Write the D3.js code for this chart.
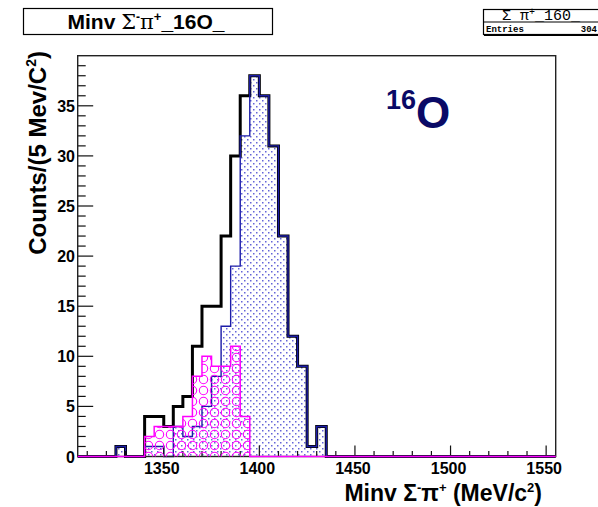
<!DOCTYPE html>
<html>
<head>
<meta charset="utf-8">
<script src="https://cdn.jsdelivr.net/npm/d3@7"></script>
<style>
  body { margin: 0; background: #fff; }
  svg { display: block; font-family: "Liberation Sans", Arial, sans-serif; }
</style>
</head>
<body>
<div id="viz"></div>
<script>
// bin lower edges (5 MeV bins)
var binLow = [1320,1325,1330,1335,1340,1345,1350,1355,1360,1365,1370,1375,
              1380,1385,1390,1395,1400,1405,1410,1415,1420,1425,1430,1435];
var totalCounts   = [0,1,0,0,4,4,3,5,6,11,15,15,22,30,36,38,36,31,22,12,9,1,3,0];
var sigmaCounts   = [0,1,0,0,1,1,0,3,2,3,5,8,13,19,32,38,36,31,22,12,9,1,3,0];
var magentaCounts = [0,0,0,0,2,3,3,3,4,8,10,9,9,11,4,0,0,0,0,0,0,0,0,0];
var xTicks = [1350,1400,1450,1500,1550];
var yTicks = [0,5,10,15,20,25,30,35];
var binWidth = 5;

var W = 598, H = 507;
var pLeft = 77.7, pRight = 555.7, pTop = 55.7, pBottom = 456.5;

var svg = d3.select('#viz').append('svg')
            .attr('width', W).attr('height', H);

var x = d3.scaleLinear().domain([1305,1555]).range([pLeft,pRight]);
var y = d3.scaleLinear().domain([0,40]).range([pBottom,pTop]);

// patterns
var defs = svg.append('defs');
var dots = defs.append('pattern').attr('id','dots')
               .attr('patternUnits','userSpaceOnUse')
               .attr('width',6).attr('height',6);
dots.append('rect').attr('x',1).attr('y',1).attr('width',1.5).attr('height',1.5).attr('fill','#6464d8');
dots.append('rect').attr('x',4).attr('y',4).attr('width',1.5).attr('height',1.5).attr('fill','#6464d8');

var rings = defs.append('pattern').attr('id','rings')
                .attr('patternUnits','userSpaceOnUse')
                .attr('width',11).attr('height',11);
rings.append('circle').attr('cx',5.5).attr('cy',5.5).attr('r',4.2)
     .attr('fill','none').attr('stroke','#ff00ff').attr('stroke-width',1.1);

// build the step outline of a histogram
var stepLine = d3.line()
                 .x(function(d) {return x(d[0])})
                 .y(function(d) {return y(d[1])})
                 .curve(d3.curveStepAfter);
var histPts = function(counts) {
	var pts = [[x.domain()[0],0],[binLow[0],0]];
	binLow.forEach(function(b,i) { pts.push([b, counts[i]]); });
	pts.push([binLow[binLow.length-1]+binWidth, 0]);
	pts.push([x.domain()[1], 0]);
	return pts;
}

// blue (dotted) histogram fill
svg.append('path')
   .datum(histPts(sigmaCounts))
   .attr('d', stepLine)
   .attr('fill','url(#dots)')
   .attr('stroke','none');

// total histogram outline
svg.append('path')
   .datum(histPts(totalCounts))
   .attr('d', stepLine)
   .attr('fill','none')
   .attr('stroke','#000')
   .attr('stroke-width',3);

// blue outline
svg.append('path')
   .datum(histPts(sigmaCounts))
   .attr('d', stepLine)
   .attr('fill','none')
   .attr('stroke','#1c1ca8')
   .attr('stroke-width',1.4);

// axes ticks (inward)
var xMinor = d3.range(1310,1556,10);
svg.append('g').selectAll('line').data(xMinor).enter().append('line')
   .attr('x1', function(d) {return x(d)}).attr('x2', function(d) {return x(d)})
   .attr('y1', pBottom)
   .attr('y2', function(d) {return pBottom - (d % 50 === 0 ? 11 : 5.5)})
   .attr('stroke','#111').attr('stroke-width',1.2);

var yMinor = d3.range(1,40,1);
svg.append('g').selectAll('line').data(yMinor).enter().append('line')
   .attr('x1', pLeft)
   .attr('x2', function(d) {return pLeft + (d % 5 === 0 ? 15.5 : 8)})
   .attr('y1', function(d) {return y(d)}).attr('y2', function(d) {return y(d)})
   .attr('stroke','#111').attr('stroke-width',1.2);

// frame
svg.append('rect')
   .attr('x',pLeft).attr('y',pTop)
   .attr('width',pRight-pLeft).attr('height',pBottom-pTop)
   .attr('fill','none').attr('stroke','#222').attr('stroke-width',1.4);

// magenta histogram on top
svg.append('path')
   .datum(histPts(magentaCounts))
   .attr('d', stepLine)
   .attr('fill','url(#rings)')
   .attr('stroke','#ff00ff')
   .attr('stroke-width',1.5);

// tick labels
svg.append('g').selectAll('text').data(xTicks).enter().append('text')
   .attr('x', function(d) {return x(d) - 2})
   .attr('y', 473.5)
   .attr('text-anchor','middle')
   .attr('font-size',16).attr('font-weight','bold')
   .text(function(d) {return d});

svg.append('g').selectAll('text').data(yTicks).enter().append('text')
   .attr('x', 75)
   .attr('y', function(d) {return y(d) + 6})
   .attr('text-anchor','end')
   .attr('font-size',16).attr('font-weight','bold')
   .text(function(d) {return d});

// x axis title
var xt = svg.append('text')
            .attr('x',542).attr('y',501)
            .attr('text-anchor','end')
            .attr('font-size',23).attr('font-weight','bold');
xt.append('tspan').text('Minv \u03a3');
xt.append('tspan').attr('font-size',13).attr('dy',-9).text('-');
xt.append('tspan').attr('dy',9).text('\u03c0');
xt.append('tspan').attr('font-size',13).attr('dy',-9).text('+');
xt.append('tspan').attr('dy',9).text(' (MeV/c');
xt.append('tspan').attr('font-size',13).attr('dy',-9).text('2');
xt.append('tspan').attr('dy',9).text(')');

// y axis title
var yt = svg.append('text')
            .attr('transform','translate(46,51) rotate(-90)')
            .attr('text-anchor','end')
            .attr('font-size',24).attr('font-weight','bold');
yt.append('tspan').text('Counts/(5 Mev/C');
yt.append('tspan').attr('font-size',14).attr('dy',-10).text('2');
yt.append('tspan').attr('dy',10).text(')');

// 16O label
var ol = svg.append('text')
            .attr('x',386).attr('y',128)
            .attr('fill','#0a0a66').attr('font-weight','bold');
ol.append('tspan').attr('font-size',27).attr('dy',-19).text('16');
ol.append('tspan').attr('font-size',44).attr('dy',19).text('O');

// title box
svg.append('rect').attr('x',23.5).attr('y',8.5).attr('width',249).attr('height',26)
   .attr('fill','#fff').attr('stroke','#000').attr('stroke-width',1.2);
var tt = svg.append('text').attr('x',146).attr('y',29)
            .attr('text-anchor','middle').attr('font-size',21).attr('font-weight','bold');
tt.append('tspan').text('Minv ');
tt.append('tspan').attr('font-family','"DejaVu Serif", serif').attr('font-weight','normal').text('\u03a3');
tt.append('tspan').attr('font-size',12).attr('dy',-8).text('-');
tt.append('tspan').attr('dy',8).attr('font-family','"DejaVu Serif", serif').attr('font-weight','normal').text('\u03c0');
tt.append('tspan').attr('font-size',13).attr('dy',-8).text('+');
tt.append('tspan').attr('dy',8).text('_16O_');

// stats box
svg.append('rect').attr('x',483.5).attr('y',9.5).attr('width',118).attr('height',25)
   .attr('fill','#fff').attr('stroke','#000').attr('stroke-width',1.2);
svg.append('line').attr('x1',484).attr('x2',598).attr('y1',35).attr('y2',35)
   .attr('stroke','#000').attr('stroke-width',2);
svg.append('line').attr('x1',483.5).attr('x2',598).attr('y1',22).attr('y2',22)
   .attr('stroke','#000').attr('stroke-width',1);
var st = svg.append('text').attr('x',541).attr('y',20)
            .attr('text-anchor','middle').attr('font-size',15)
            .attr('font-family','"Liberation Mono", monospace');
st.append('tspan').text('\u03a3 \u03c0');
st.append('tspan').attr('font-size',10).attr('dy',-5).text('+');
st.append('tspan').attr('dy',5).text('_160_');
svg.append('text').attr('x',486).attr('y',31.5)
   .attr('font-size',9).attr('font-weight','bold')
   .attr('font-family','"Liberation Mono", monospace')
   .text('Entries');
svg.append('text').attr('x',597).attr('y',31.5)
   .attr('text-anchor','end')
   .attr('font-size',9).attr('font-weight','bold')
   .attr('font-family','"Liberation Mono", monospace')
   .text('304');
</script>
</body>
</html>
